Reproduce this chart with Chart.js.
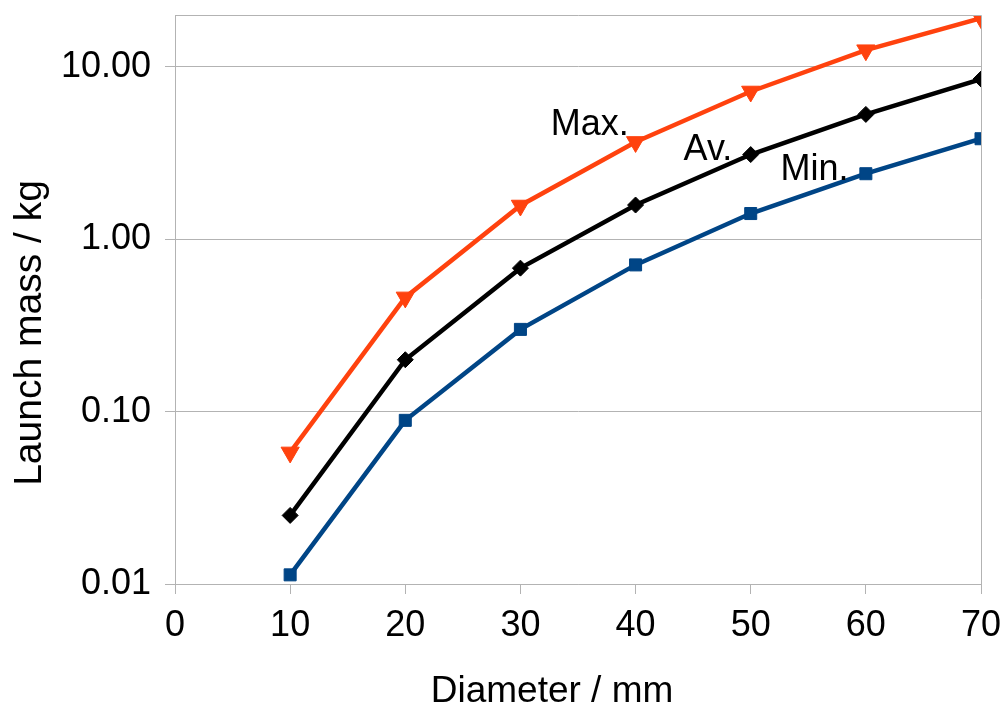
<!DOCTYPE html>
<html>
<head>
<meta charset="utf-8">
<script src="https://cdn.jsdelivr.net/npm/chart.js@4"></script>
<style>
  html, body { margin: 0; padding: 0; background: #fff; }
  #wrap { width: 1007px; height: 711px; }
</style>
</head>
<body>
<div id="wrap"><canvas id="massChart" width="1007" height="711"></canvas></div>
<script>
const diameters = [10, 20, 30, 40, 50, 60, 70];
const maxMass = [0.058, 0.46, 1.57, 3.67, 7.2, 12.5, 19.2];
const avMass = [0.025, 0.20, 0.68, 1.58, 3.1, 5.3, 8.5];
const minMass = [0.0113, 0.089, 0.30, 0.71, 1.41, 2.4, 3.83];
const yTickValues = [0.01, 0.1, 1, 10];

// series names written next to the curves (right end x, baseline y in data units)
const seriesNames = ["Max.", "Av.", "Min."];
const nameX = [39.4, 48.4, 58.5];
const nameY = [4.02, 2.88, 2.2];

const fontFamily = "'Liberation Sans', Arial, sans-serif";
const gridGray = "#b3b3b3";

function toPoints(values) {
  return values.map((v, i) => ({ x: diameters[i], y: v }));
}

const textPlugin = {
  id: "textPlugin",
  afterDraw(chart) {
    const ctx = chart.ctx;
    const area = chart.chartArea;
    const xs = chart.scales.x;
    const ys = chart.scales.y;
    ctx.save();
    // frame top + right
    ctx.strokeStyle = gridGray;
    ctx.lineWidth = 1;
    ctx.beginPath();
    ctx.moveTo(area.left, area.top + 0.5);
    ctx.lineTo(area.right + 0.5, area.top + 0.5);
    ctx.lineTo(area.right + 0.5, area.bottom);
    ctx.stroke();

    ctx.fillStyle = "#000";
    ctx.font = "36px " + fontFamily;
    ctx.textAlign = "right";
    ctx.textBaseline = "alphabetic";
    seriesNames.forEach((name, i) => {
      ctx.fillText(name, xs.getPixelForValue(nameX[i]), ys.getPixelForValue(nameY[i]));
    });

    // axis titles
    ctx.textAlign = "center";
    ctx.textBaseline = "middle";
    ctx.font = "37px " + fontFamily;
    ctx.fillText("Diameter / mm", 552, 692);
    ctx.font = "39px " + fontFamily;
    ctx.translate(30, 333);
    ctx.rotate(-Math.PI / 2);
    ctx.fillText("Launch mass / kg", 0, 0);
    ctx.restore();
  }
};

const chart = new Chart(document.getElementById("massChart").getContext("2d"), {
  type: "line",
  data: {
    datasets: [
      {
        label: "Min.",
        data: toPoints(minMass),
        borderColor: "#004586",
        backgroundColor: "#004586",
        borderWidth: 4.5,
        pointStyle: "rect",
        pointRadius: 8.5,
        pointBorderWidth: 1,
        fill: false,
      },
      {
        label: "Av.",
        data: toPoints(avMass),
        borderColor: "#000000",
        backgroundColor: "#000000",
        borderWidth: 4.5,
        pointStyle: "rectRot",
        pointRadius: 8,
        pointBorderWidth: 1,
        fill: false,
      },
      {
        label: "Max.",
        data: toPoints(maxMass),
        borderColor: "#ff420e",
        backgroundColor: "#ff420e",
        borderWidth: 4.5,
        pointStyle: "triangle",
        pointRotation: 180,
        pointRadius: 10.5,
        pointBorderWidth: 1,
        fill: false,
      },
    ],
  },
  options: {
    responsive: false,
    animation: false,
    layout: { padding: { top: 15, right: 26, left: 0, bottom: 0 } },
    plugins: {
      legend: { display: false },
      tooltip: { enabled: false },
    },
    scales: {
      x: {
        type: "linear",
        min: 0,
        max: 70,
        afterFit: (scale) => {
          scale.height = 127;
          scale.paddingLeft = 0;
          scale.paddingRight = 0;
        },
        ticks: {
          stepSize: 10,
          color: "#000",
          font: { family: fontFamily, size: 36 },
          padding: 10,
          maxRotation: 0,
        },
        grid: { drawOnChartArea: false, tickLength: 10, color: gridGray },
        border: { color: gridGray },
      },
      y: {
        type: "logarithmic",
        min: 0.01,
        max: 20,
        afterFit: (scale) => {
          scale.width = 175;
          scale.paddingTop = 0;
          scale.paddingBottom = 0;
        },
        afterBuildTicks: (scale) => {
          scale.ticks = yTickValues.map((v) => ({ value: v }));
        },
        ticks: {
          color: "#000",
          font: { family: fontFamily, size: 36 },
          padding: 14,
          callback: (v) => Number(v).toFixed(2),
        },
        grid: { tickLength: 10, color: gridGray },
        border: { color: gridGray },
      },
    },
  },
  plugins: [textPlugin],
});
</script>
</body>
</html>
